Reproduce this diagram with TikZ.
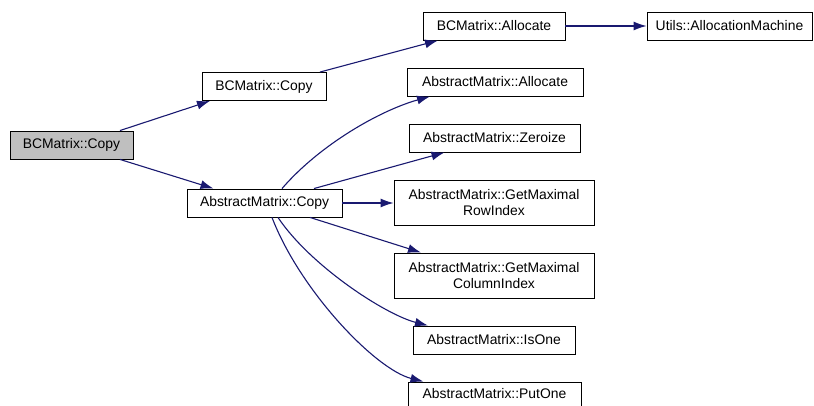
\documentclass[tikz,border=0pt]{standalone}
\usepackage{fontspec}
\setmainfont{Liberation Sans}
\usetikzlibrary{arrows.meta}
\definecolor{edgeblue}{RGB}{25,25,112}
\definecolor{rootgrey}{RGB}{191,191,191}
\begin{document}
\begin{tikzpicture}[x=1pt,y=-1pt,
  fn/.style={draw=black,line width=0.9pt,fill=white,inner sep=0pt,align=center,
    font=\fontsize{13.9}{16.5}\selectfont,minimum height=28pt},
  root/.style={fn,fill=rootgrey},
  call/.style={draw=edgeblue,line width=1.1pt,-{Latex[length=13pt,width=9pt]}}]
\useasboundingbox (0,0) rectangle (814,406);

% functions
\node[root,minimum width=123pt] (grey) at (71.5,145) {BCMatrix::Copy};
\node[fn,minimum width=124pt] (bccopy) at (264,86.5) {BCMatrix::Copy};
\node[fn,minimum width=155pt] (amcopy) at (264.5,203) {AbstractMatrix::Copy};
\node[fn,minimum width=142pt] (bcalloc) at (494,26) {BCMatrix::Allocate};
\node[fn,minimum width=165pt] (utils) at (729.5,26) {Utils::AllocationMachine};
\node[fn,minimum width=176pt] (amalloc) at (495,82) {AbstractMatrix::Allocate};
\node[fn,minimum width=171pt] (zeroize) at (494.5,138) {AbstractMatrix::Zeroize};
\node[fn,minimum width=200pt,minimum height=45pt] (rowidx) at (494,202.5) {AbstractMatrix::GetMaximal\\RowIndex};
\node[fn,minimum width=200pt,minimum height=45pt] (colidx) at (494,275.5) {AbstractMatrix::GetMaximal\\ColumnIndex};
\node[fn,minimum width=162pt] (isone) at (494,340) {AbstractMatrix::IsOne};
\node[fn,minimum width=173pt,minimum height=24pt] (putone) at (494.5,394) {AbstractMatrix::PutOne};

% calls
\draw[call] ([xshift=48.5pt]grey.north) -- ([xshift=-54pt]bccopy.south);
\draw[call] ([xshift=48.5pt]grey.south) -- ([xshift=-51pt]amcopy.north);
\draw[call] ([xshift=56pt]bccopy.north) -- ([xshift=-56pt]bcalloc.south);
\draw[call] (bcalloc.east) -- (utils.west);
\draw[call] ([xshift=17.5pt]amcopy.north) .. controls +(38,-44) and +(-50,14) .. ([xshift=-65pt]amalloc.south);
\draw[call] ([xshift=49.5pt]amcopy.north) -- ([xshift=-50pt]zeroize.south);
\draw[call] (amcopy.east) -- (amcopy.east -| rowidx.west);
\draw[call] ([xshift=45.5pt]amcopy.south) -- ([xshift=-73pt]colidx.north);
\draw[call] ([xshift=13.5pt]amcopy.south) .. controls +(32,48) and +(-43,-11) .. ([xshift=-66pt]isone.north);
\draw[call] ([xshift=7.5pt]amcopy.south) .. controls +(28,73) and +(-48,-12) .. ([xshift=-71pt]putone.north);
\end{tikzpicture}
\end{document}
